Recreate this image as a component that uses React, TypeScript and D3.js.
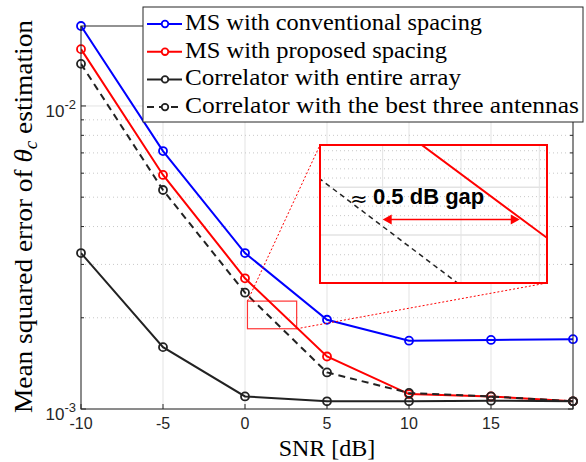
import React from 'react';
import * as d3 from 'd3';

const snr = [-10, -5, 0, 5, 10, 15, 20];
const msConventional = [0.01836, 0.0071, 0.00327, 0.00197, 0.00168, 0.00169, 0.0017];
const msProposed = [0.0154, 0.00592, 0.0027, 0.00149, 0.00112, 0.0011, 0.00106];
const corrEntire = [0.00327, 0.0016, 0.0011, 0.00106, 0.00106, 0.001065, 0.00106];
const corrBest3 = [0.01377, 0.00528, 0.00242, 0.00132, 0.00113, 0.0011, 0.00106];
const xTicks = [-10, -5, 0, 5, 10, 15, 20];
const xTickLabels = ['-10', '-5', '0', '5', '10', '15', ''];
const yMajor = [1e-3, 1e-2];
const yMajorExp = ['-3', '-2'];
const yMinor = [2e-3, 3e-3, 4e-3, 5e-3, 6e-3, 7e-3, 8e-3, 9e-3];
const legendLabels = [
  'MS with conventional spacing',
  'MS with proposed spacing',
  'Correlator with entire array',
  'Correlator with the best three antennas',
];
const legendWidths = [297, 262, 276, 394];
// zoom region
const zoomX = [0.15, 3.15];
const zoomY = [0.00184, 0.00227];
// inset axes domain
const insetX = [1.1, 2.549];
const insetY = [Math.pow(10, -2.7203), Math.pow(10, -2.659)];
const insetXTicks = [1.5, 2.0, 2.5];
const insetYMajor = [0.0019, 0.002, 0.0021, 0.0022];
const insetYMinor = [0.00192, 0.00194, 0.00196, 0.00198, 0.00202, 0.00204, 0.00206, 0.00208, 0.00212, 0.00214, 0.00216, 0.00218];
const arrowFrom = 1.5;
const arrowTo = 2.375;
const arrowLevel = 0.002032;

export default function App() {
  const W = 586, H = 462;
  const L = 81, R = 573, T = 26, B = 409;
  const x = d3.scaleLinear().domain([-10, 20]).range([L, R]);
  const y = d3.scaleLog().domain([1e-3, 0.01836]).range([B, T]);

  const series = [
    { v: msConventional, color: '#0000ff', dash: '' },
    { v: msProposed, color: '#ff0000', dash: '' },
    { v: corrEntire, color: '#222222', dash: '' },
    { v: corrBest3, color: '#222222', dash: '7,5' },
  ];
  const lineMain = d3.line<number>().x((d, i) => x(snr[i])).y((d) => y(d));

  // inset
  const iL = 320, iR = 547, iT = 145, iB = 283;
  const ix = d3.scaleLinear().domain(insetX).range([iL, iR]);
  const iy = d3.scaleLog().domain(insetY).range([iB, iT]);
  const lineInset = d3.line<number>().x((d, i) => ix(snr[i])).y((d) => iy(d));

  const axisColor = '#262626';
  const gridColor = '#e3e3e3';
  const serif = '"Liberation Serif", "Times New Roman", serif';
  const sans = '"Liberation Sans", Arial, Helvetica, sans-serif';

  const rx0 = x(zoomX[0]), rx1 = x(zoomX[1]);
  const ry0 = y(zoomY[1]), ry1 = y(zoomY[0]);

  const ay = iy(arrowLevel);
  const ax0 = ix(arrowFrom), ax1 = ix(arrowTo);

  return (
    <svg width={W} height={H} style={{ position: 'absolute', left: 0, top: 0, background: '#fff' }}>
      <defs>
        <clipPath id="mainClip"><rect x={L} y={T} width={R - L} height={B - T} /></clipPath>
        <clipPath id="insetClip"><rect x={iL} y={iT} width={iR - iL} height={iB - iT} /></clipPath>
      </defs>
      <rect x={0} y={0} width={W} height={H} fill="#fff" />
      {/* grid */}
      {xTicks.map((t) => (
        <line key={'gx' + t} x1={x(t)} x2={x(t)} y1={T} y2={B} stroke={gridColor} strokeWidth={1} />
      ))}
      {yMinor.map((t) => (
        <line key={'gm' + t} x1={L} x2={R} y1={y(t)} y2={y(t)} stroke="#c8c8c8" strokeWidth={1} strokeDasharray="1,3" />
      ))}
      {yMajor.map((t) => (
        <line key={'gy' + t} x1={L} x2={R} y1={y(t)} y2={y(t)} stroke={gridColor} strokeWidth={1} />
      ))}
      {/* data */}
      <g clipPath="url(#mainClip)">
        {series.map((s, k) => (
          <path key={'l' + k} d={lineMain(s.v) || ''} fill="none" stroke={s.color} strokeWidth={2} strokeDasharray={s.dash || undefined} />
        ))}
      </g>
      {series.map((s, k) => (
        <g key={'m' + k}>
          {s.v.map((v, i) => (
            <circle key={i} cx={x(snr[i])} cy={y(v)} r={4} fill="none" stroke={s.color} strokeWidth={1.8} />
          ))}
        </g>
      ))}
      {/* zoom rectangle and connectors */}
      <rect x={rx0} y={ry0} width={rx1 - rx0} height={ry1 - ry0} fill="none" stroke="#ff0000" strokeOpacity={0.8} strokeWidth={1.2} />
      <line x1={rx0} y1={ry0} x2={iL} y2={iT} stroke="#ff0000" strokeWidth={1} strokeDasharray="2,2" />
      <line x1={rx1} y1={ry1} x2={iR} y2={iB} stroke="#ff0000" strokeWidth={1} strokeDasharray="2,2" />
      {/* inset */}
      <rect x={iL} y={iT} width={iR - iL} height={iB - iT} fill="#fff" />
      <g clipPath="url(#insetClip)">
        {insetXTicks.map((t) => (
          <line key={'ix' + t} x1={ix(t)} x2={ix(t)} y1={iT} y2={iB} stroke={gridColor} strokeWidth={1} />
        ))}
        {insetYMinor.map((t) => (
          <line key={'iym' + t} x1={iL} x2={iR} y1={iy(t)} y2={iy(t)} stroke="#c8c8c8" strokeWidth={1} strokeDasharray="1,3" />
        ))}
        {insetYMajor.map((t) => (
          <line key={'iy' + t} x1={iL} x2={iR} y1={iy(t)} y2={iy(t)} stroke={gridColor} strokeWidth={1.5} />
        ))}
        {series.map((s, k) => (
          <path key={'il' + k} d={lineInset(s.v) || ''} fill="none" stroke={s.color} strokeWidth={s.dash ? 1.5 : 2} strokeDasharray={s.dash ? '5,4' : undefined} />
        ))}
      </g>
      <rect x={iL} y={iT} width={iR - iL} height={iB - iT} fill="none" stroke="#ff0000" strokeWidth={2} />
      <text x={350} y={206} fontFamily='"DejaVu Sans", sans-serif' fontSize={21} fill="#000">≈</text>
      <text x={373} y={204} fontFamily={sans} fontWeight="bold" fontSize={22} fill="#000">0.5 dB gap</text>
      <line x1={ax0 + 7} y1={ay} x2={ax1 - 7} y2={ay} stroke="#ff0000" strokeWidth={1.5} />
      <path d={`M${ax0},${ay} L${ax0 + 9},${ay - 5} L${ax0 + 9},${ay + 5} Z`} fill="#ff0000" />
      <path d={`M${ax1},${ay} L${ax1 - 9},${ay - 5} L${ax1 - 9},${ay + 5} Z`} fill="#ff0000" />
      {/* axes box */}
      <rect x={L} y={T} width={R - L} height={B - T} fill="none" stroke={axisColor} strokeWidth={1} />
      {xTicks.map((t) => (
        <g key={'tx' + t}>
          <line x1={x(t)} x2={x(t)} y1={B} y2={B - 5} stroke={axisColor} />
          <line x1={x(t)} x2={x(t)} y1={T} y2={T + 5} stroke={axisColor} />
        </g>
      ))}
      {yMajor.map((t) => (
        <g key={'ty' + t}>
          <line x1={L} x2={L + 5} y1={y(t)} y2={y(t)} stroke={axisColor} />
          <line x1={R} x2={R - 5} y1={y(t)} y2={y(t)} stroke={axisColor} />
        </g>
      ))}
      {yMinor.map((t) => (
        <g key={'tym' + t}>
          <line x1={L} x2={L + 3} y1={y(t)} y2={y(t)} stroke={axisColor} />
          <line x1={R} x2={R - 3} y1={y(t)} y2={y(t)} stroke={axisColor} />
        </g>
      ))}
      {/* tick labels */}
      {xTicks.map((t, i) => (
        <text key={'lx' + t} x={x(t)} y={429} textAnchor="middle" fontFamily={sans} fontSize={16} fill={axisColor}>{xTickLabels[i]}</text>
      ))}
      {yMajor.map((t, i) => (
        <text key={'ly' + t} x={L - 5} y={y(t) + 11} textAnchor="end" fontFamily={sans} fontSize={17} fill={axisColor}>
          10<tspan dy={-8} fontSize={13}>{yMajorExp[i]}</tspan>
        </text>
      ))}
      {/* axis labels */}
      <text x={327} y={456} textAnchor="middle" fontFamily={serif} fontSize={24} fill="#000">SNR [dB]</text>
      <text transform={`translate(32, ${(T + B) / 2 - 1}) rotate(-90)`} textAnchor="middle" fontFamily={serif} fontSize={26} fill="#000" textLength={393} lengthAdjust="spacingAndGlyphs">
        Mean squared error of <tspan fontStyle="italic">θ</tspan><tspan fontStyle="italic" fontSize={18} dy={5}>c</tspan><tspan dy={-5}> estimation</tspan>
      </text>
      {/* legend */}
      <rect x={143} y={7} width={440} height={115} fill="#fff" stroke={axisColor} strokeWidth={1} />
      {series.map((s, k) => {
        const ly = 24 + k * 27.7;
        return (
          <g key={'lg' + k}>
            <line x1={147} x2={182} y1={ly} y2={ly} stroke={s.color} strokeWidth={2} strokeDasharray={s.dash ? '7,5' : undefined} />
            <circle cx={165} cy={ly} r={3.3} fill="#fff" stroke={s.color} strokeWidth={1.8} />
            <text x={185} y={ly + 6} fontFamily={serif} fontSize={23} fill="#000" textLength={legendWidths[k]} lengthAdjust="spacingAndGlyphs">{legendLabels[k]}</text>
          </g>
        );
      })}
    </svg>
  );
}
